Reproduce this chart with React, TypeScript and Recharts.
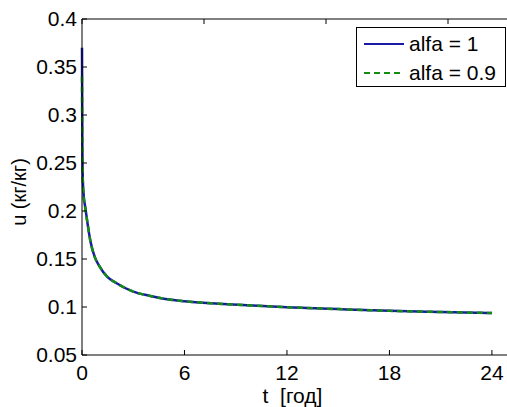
import { LineChart, Line, XAxis, YAxis, Legend } from "recharts";

// time axis (years)
const tYears = [0, 0.02, 0.05, 0.1, 0.2, 0.3, 0.5, 0.75, 1, 1.5, 2, 3, 4, 5, 6, 8, 10, 12, 15, 18, 21, 24];
// u (kg/kg) for alfa = 1
const uAlfa1 = [0.37, 0.27, 0.232, 0.216, 0.203, 0.19, 0.168, 0.152, 0.143, 0.131, 0.125, 0.116, 0.1115, 0.108, 0.106, 0.1035, 0.1015, 0.0998, 0.0978, 0.096, 0.0948, 0.0937];
// u (kg/kg) for alfa = 0.9
const uAlfa09 = [0.34, 0.26, 0.23, 0.215, 0.202, 0.19, 0.168, 0.152, 0.143, 0.131, 0.125, 0.116, 0.1115, 0.108, 0.106, 0.1035, 0.1015, 0.0998, 0.0978, 0.096, 0.0948, 0.0937];

const xTicks = [0, 6, 12, 18, 24];
const yTicks = [0.05, 0.1, 0.15, 0.2, 0.25, 0.3, 0.35, 0.4];

const data = tYears.map((t, i) => ({ t, a1: uAlfa1[i], a09: uAlfa09[i] }));

const FONT = "'Liberation Sans', Arial, sans-serif";
const BLUE = "#1a1aa6";
const GREEN = "#148c14";

const tickStyle = { fill: "#000", fontSize: 21, fontFamily: FONT };

const LegendBox = () => (
  <div
    style={{
      width: 148,
      height: 58,
      border: "1px solid #000",
      background: "#fff",
      position: "relative",
      fontFamily: FONT,
      fontSize: 21,
      color: "#000",
    }}
  >
    <svg width={148} height={58} style={{ position: "absolute", left: 0, top: 0 }}>
      <line x1={7} x2={47} y1={16} y2={16} stroke={BLUE} strokeWidth={2} />
      <line x1={7} x2={47} y1={45} y2={45} stroke={GREEN} strokeWidth={2} strokeDasharray="6 4" />
      <text x={52} y={23} fontSize={21} fontFamily={FONT}>alfa = 1</text>
      <text x={52} y={52} fontSize={21} fontFamily={FONT}>alfa = 0.9</text>
    </svg>
  </div>
);

export default function App() {
  return (
    <div
      style={{
        position: "absolute",
        left: 0,
        top: 0,
        width: 507,
        height: 407,
        overflow: "hidden",
        background: "#fff",
      }}
    >
      <LineChart
        width={520}
        height={407}
        data={data}
        margin={{ top: 18, right: 10, bottom: 0, left: 0 }}
      >
        <XAxis
          dataKey="t"
          type="number"
          domain={[0, 25]}
          ticks={xTicks}
          height={52}
          stroke="#000"
          tickSize={-5}
          tickMargin={15}
          tick={tickStyle}
          label={{
            content: (props: any) => {
              const vb = props.viewBox || {};
              return (
                <text
                  x={vb.x + vb.width / 2 - 3}
                  y={403}
                  textAnchor="middle"
                  fontSize={21}
                  fontFamily={FONT}
                  fill="#000"
                  style={{ whiteSpace: "pre" }}
                >
                  {"t  [год]"}
                </text>
              );
            },
          }}
        />
        <XAxis
          xAxisId="top"
          orientation="top"
          type="number"
          domain={[0, 25]}
          ticks={xTicks}
          height={1}
          stroke="#000"
          tickSize={-5}
          tickFormatter={() => ""}
        />
        <YAxis
          type="number"
          domain={[0.05, 0.4]}
          ticks={yTicks}
          width={82}
          stroke="#000"
          tickSize={-5}
          tickMargin={10}
          tick={tickStyle}
          allowDataOverflow
          label={{
            content: () => (
              <text
                x={0}
                y={0}
                transform="translate(26, 192) rotate(-90)"
                textAnchor="middle"
                fontSize={20}
                fontFamily={FONT}
                fill="#000"
              >
                u (кг/кг)
              </text>
            ),
          }}
        />
        <YAxis
          yAxisId="right"
          orientation="right"
          type="number"
          domain={[0.05, 0.4]}
          ticks={yTicks}
          width={1}
          stroke="#000"
          tickSize={-5}
          tickFormatter={() => ""}
        />
        <Legend
          layout="vertical"
          align="center"
          verticalAlign="middle"
          content={() => <LegendBox />}
          wrapperStyle={{ position: "absolute", left: 356, top: 27, width: 150, height: 60 }}
        />
        <Line
          type="monotone"
          dataKey="a1"
          stroke={BLUE}
          strokeWidth={2.5}
          dot={false}
          isAnimationActive={false}
        />
        <Line
          type="monotone"
          dataKey="a09"
          stroke={GREEN}
          strokeWidth={2.5}
          strokeDasharray="6 4"
          dot={false}
          isAnimationActive={false}
        />
      </LineChart>
    </div>
  );
}
